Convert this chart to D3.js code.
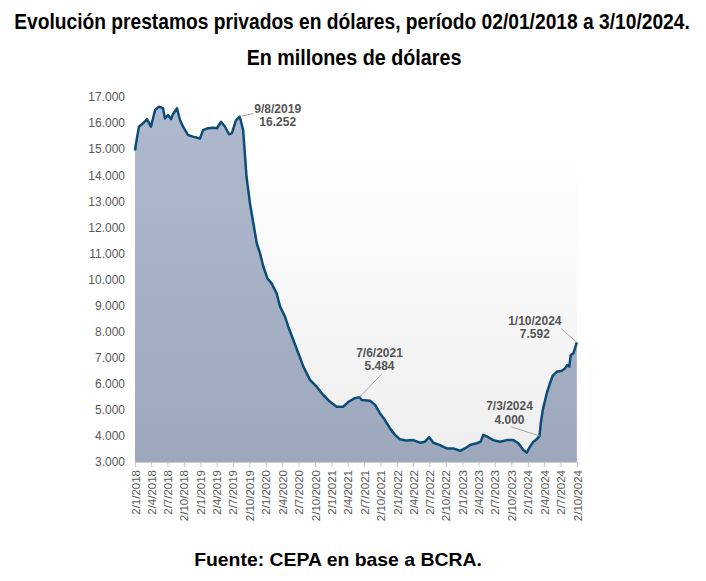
<!DOCTYPE html>
<html>
<head>
<meta charset="utf-8">
<script src="https://cdn.jsdelivr.net/npm/d3@7"></script>
<style>
  body { margin: 0; background: #fff; }
  svg text { font-family: "Liberation Sans", Arial, sans-serif; }
</style>
</head>
<body>
<div id="container"></div>
<script>
// fechas y saldos (millones de USD)
const dates = [
  "2018-01-02","2018-01-08","2018-01-24","2018-02-16","2018-03-10","2018-04-01","2018-04-24","2018-05-16",
  "2018-06-07","2018-06-18","2018-07-05","2018-07-22","2018-08-02","2018-08-24","2018-09-10","2018-09-27",
  "2018-10-25","2018-11-21","2018-12-31","2019-01-16","2019-02-13","2019-03-13","2019-04-04","2019-04-27",
  "2019-05-19","2019-06-10","2019-06-27","2019-07-19","2019-08-09","2019-08-28","2019-09-16","2019-10-05",
  "2019-10-24","2019-11-12","2019-11-30","2019-12-19","2020-01-10","2020-02-03","2020-03-02","2020-03-21",
  "2020-04-18","2020-05-06","2020-06-03","2020-07-01","2020-07-29","2020-09-04","2020-10-11","2020-11-17",
  "2020-12-25","2021-01-31","2021-03-09","2021-04-06","2021-05-13","2021-06-07","2021-06-19","2021-08-05",
  "2021-09-02","2021-09-29","2021-10-27","2021-11-24","2021-12-22","2022-01-19","2022-02-25","2022-04-03",
  "2022-05-10","2022-06-07","2022-07-01","2022-07-24","2022-08-30","2022-10-06","2022-11-12","2022-12-20",
  "2023-01-16","2023-02-13","2023-03-23","2023-04-14","2023-04-28","2023-05-26","2023-06-23","2023-07-31",
  "2023-09-06","2023-10-13","2023-11-10","2023-12-08","2023-12-27","2024-01-14","2024-02-02","2024-02-20",
  "2024-03-07","2024-03-14","2024-03-25","2024-04-16","2024-05-04","2024-05-19","2024-06-11","2024-07-09",
  "2024-07-27","2024-08-09","2024-08-20","2024-08-28","2024-09-12","2024-10-01"
];
const prestamos = [
  14950,15230,15860,15990,16150,15860,16500,16630,
  16570,16180,16310,16160,16340,16570,16120,15860,
  15540,15480,15410,15730,15800,15820,15800,16050,
  15860,15570,15620,16100,16252,15730,13940,12930,
  12160,11390,11010,10490,10050,9850,9470,8960,
  8570,8190,7680,7170,6660,6150,5890,5570,
  5310,5120,5120,5310,5450,5484,5380,5350,
  5190,4870,4610,4290,4040,3870,3820,3840,
  3740,3780,3950,3740,3650,3520,3520,3430,
  3520,3650,3720,3780,4040,3950,3840,3780,
  3840,3840,3720,3460,3360,3590,3780,3870,
  4000,4480,4990,5630,6020,6300,6460,6500,
  6590,6720,6660,7100,7170,7592
];

const yTicks = [3000,4000,5000,6000,7000,8000,9000,10000,11000,12000,13000,14000,15000,16000,17000];
const xTickDates = [
  "2018-01-02","2018-04-02","2018-07-02","2018-10-02","2019-01-02","2019-04-02","2019-07-02","2019-10-02",
  "2020-01-02","2020-04-02","2020-07-02","2020-10-02","2021-01-02","2021-04-02","2021-07-02","2021-10-02",
  "2022-01-02","2022-04-02","2022-07-02","2022-10-02","2023-01-02","2023-04-02","2023-07-02","2023-10-02",
  "2024-01-02","2024-04-02","2024-07-02","2024-10-02"
];

// puntos anotados
const noteDates = ["2019-08-09", "2021-06-07", "2024-03-07", "2024-10-01"];
const noteValues = [16252, 5484, 4000, 7592];
const noteLabels = [["9/8/2019", "16.252"], ["7/6/2021", "5.484"], ["7/3/2024", "4.000"], ["1/10/2024", "7.592"]];

// ubicación de cada etiqueta respecto del punto: fin de la guía y centro del texto
const noteLayout = [
  { lx: 14, ly: -3, tx: 38, ty: -1 },
  { lx: 22, ly: -23, tx: 20, ty: -38 },
  { lx: -28, ly: -9, tx: -30, ty: -23 },
  { lx: -16, ly: -14, tx: -42, ty: -15 }
];

const parse = d3.timeParse("%Y-%m-%d");
const data = dates.map((d, i) => ({ date: parse(d), value: prestamos[i] }));

const width = 706, height = 581;
const margin = { top: 97, right: 129, bottom: 119, left: 135 };

const svg = d3.select("#container")
  .append("svg")
  .attr("width", width)
  .attr("height", height);

const x = d3.scaleTime()
  .domain([parse("2018-01-02"), parse("2024-10-02")])
  .range([margin.left, width - margin.right]);

const y = d3.scaleLinear()
  .domain([3000, 17000])
  .range([height - margin.bottom, margin.top]);

const locale = d3.formatLocale({ decimal: ",", thousands: ".", grouping: [3], currency: ["$", ""] });
const fmt = locale.format(",.0f");

// gradients
const defs = svg.append("defs");
const bg = defs.append("linearGradient").attr("id", "bg").attr("x1", 0).attr("y1", 0).attr("x2", 0).attr("y2", 1);
bg.append("stop").attr("offset", "0%").attr("stop-color", "#ffffff");
bg.append("stop").attr("offset", "15%").attr("stop-color", "#ffffff");
bg.append("stop").attr("offset", "100%").attr("stop-color", "#eeeeee");
const fill = defs.append("linearGradient").attr("id", "fill").attr("x1", 0).attr("y1", 0).attr("x2", 0).attr("y2", 1);
fill.append("stop").attr("offset", "0%").attr("stop-color", "#afb9cd");
fill.append("stop").attr("offset", "100%").attr("stop-color", "#9da8bd");

svg.append("rect")
  .attr("x", x.range()[0])
  .attr("y", y(17000))
  .attr("width", x.range()[1] - x.range()[0])
  .attr("height", y(3000) - y(17000))
  .attr("fill", "url(#bg)");

// titles: squeezed horizontally to the reference width
const addTitle = (txt, cx, by, size, w) => {
  const t = svg.append("text")
    .attr("x", 0).attr("y", 0)
    .attr("text-anchor", "middle")
    .attr("font-size", size).attr("font-weight", "bold")
    .attr("fill", "#000")
    .text(txt);
  const len = t.node().getComputedTextLength();
  t.attr("transform", `translate(${cx},${by}) scale(${w / len},1)`);
};

addTitle("Evolución prestamos privados en dólares, período 02/01/2018 a 3/10/2024.", 352, 29, 22, 676);
addTitle("En millones de dólares", 354, 65, 22, 215);
addTitle("Fuente: CEPA en base a BCRA.", 338, 566, 18, 288);

// area + line
const area = d3.area()
  .x(d => x(d.date))
  .y0(y(3000))
  .y1(d => y(d.value));

const line = d3.line()
  .x(d => x(d.date))
  .y(d => y(d.value));

svg.append("path")
  .datum(data)
  .attr("d", area)
  .attr("fill", "url(#fill)");

svg.append("path")
  .datum(data)
  .attr("d", line)
  .attr("fill", "none")
  .attr("stroke", "#0c4c78")
  .attr("stroke-width", 2.5)
  .attr("stroke-linejoin", "round");

// y axis
const yAxis = svg.append("g")
  .attr("transform", `translate(${margin.left},0)`)
  .call(d3.axisLeft(y).tickValues(yTicks).tickFormat(fmt).tickSize(0).tickPadding(10));
yAxis.select(".domain").remove();
yAxis.selectAll("text")
  .attr("font-size", 12)
  .attr("fill", "#595959")
  .style("font-family", "'Liberation Sans', Arial, sans-serif");

// x axis
const xAxis = svg.append("g")
  .attr("transform", `translate(0,${y(3000)})`)
  .call(d3.axisBottom(x)
    .tickValues(xTickDates.map(parse))
    .tickFormat(d3.timeFormat("%-d/%-m/%Y"))
    .tickSize(5)
    .tickSizeOuter(0));
xAxis.select(".domain").attr("stroke", "#d0d0d0");
xAxis.selectAll(".tick line").attr("stroke", "#c8c8c8");
xAxis.selectAll("text")
  .attr("font-size", 11.5)
  .attr("fill", "#595959")
  .style("font-family", "'Liberation Sans', Arial, sans-serif")
  .attr("text-anchor", "end")
  .attr("transform", "rotate(-90)")
  .attr("x", -8)
  .attr("y", 0)
  .attr("dy", "0.35em");

// annotations
const ann = svg.append("g");
noteDates.forEach((d, i) => {
  const px = x(parse(d)), py = y(noteValues[i]);
  const L = noteLayout[i];
  ann.append("line")
    .attr("x1", px).attr("y1", py)
    .attr("x2", px + L.lx).attr("y2", py + L.ly)
    .attr("stroke", "#a8a8a8").attr("stroke-width", 1);
  const t = ann.append("text")
    .attr("text-anchor", "middle")
    .attr("font-size", 12).attr("font-weight", "bold")
    .attr("fill", "#555");
  noteLabels[i].forEach((s, j) => {
    t.append("tspan")
      .attr("x", px + L.tx)
      .attr("y", py + L.ty + (j - 0.5) * 13.5)
      .attr("dy", "0.35em")
      .text(s);
  });
});
</script>
</body>
</html>
